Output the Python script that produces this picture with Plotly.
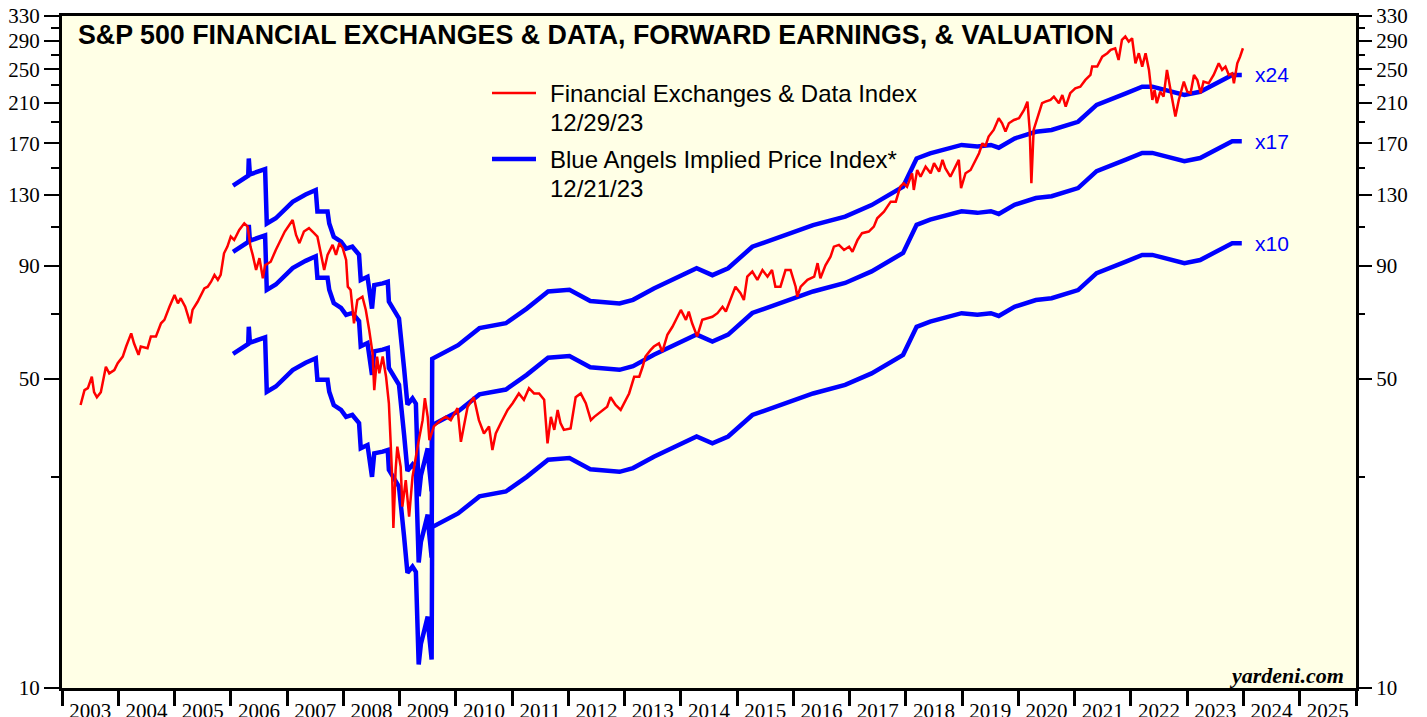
import math
import plotly.graph_objects as go

# S&P 500 Financial Exchanges & Data index (decimal year, index level)
red_years = [
    2003.33, 2003.40, 2003.46, 2003.53, 2003.57, 2003.62, 2003.69, 2003.78, 2003.84, 2003.93,
    2003.99, 2004.08, 2004.14, 2004.23, 2004.28, 2004.36, 2004.40, 2004.52, 2004.58, 2004.67,
    2004.76, 2004.82, 2004.91, 2005.00, 2005.06, 2005.11, 2005.19, 2005.28, 2005.32, 2005.41,
    2005.53, 2005.59, 2005.65, 2005.71, 2005.77, 2005.82, 2005.88, 2005.94, 2006.00, 2006.06,
    2006.15, 2006.24, 2006.30, 2006.35, 2006.39, 2006.45, 2006.51, 2006.57, 2006.61, 2006.71,
    2006.80, 2006.89, 2006.96, 2007.04, 2007.10, 2007.16, 2007.22, 2007.30, 2007.39, 2007.48,
    2007.54, 2007.60, 2007.66, 2007.72, 2007.81, 2007.87, 2007.93, 2007.99, 2008.05, 2008.08,
    2008.13, 2008.19, 2008.25, 2008.34, 2008.40, 2008.46, 2008.52, 2008.55, 2008.60, 2008.64,
    2008.70, 2008.76, 2008.81, 2008.84, 2008.87, 2008.89, 2008.93, 2008.96, 2009.02, 2009.05,
    2009.11, 2009.17, 2009.23, 2009.32, 2009.41, 2009.45, 2009.50, 2009.53, 2009.61, 2009.73,
    2009.82, 2009.91, 2010.03, 2010.09, 2010.21, 2010.32, 2010.41, 2010.50, 2010.59, 2010.65,
    2010.71, 2010.80, 2010.92, 2011.01, 2011.12, 2011.21, 2011.30, 2011.39, 2011.48, 2011.57,
    2011.63, 2011.69, 2011.75, 2011.81, 2011.86, 2011.92, 2012.04, 2012.13, 2012.22, 2012.31,
    2012.40, 2012.46, 2012.58, 2012.69, 2012.75, 2012.84, 2012.93, 2012.99, 2013.08, 2013.17,
    2013.26, 2013.32, 2013.37, 2013.46, 2013.52, 2013.61, 2013.67, 2013.76, 2013.85, 2013.94,
    2014.00, 2014.09, 2014.14, 2014.20, 2014.29, 2014.38, 2014.47, 2014.56, 2014.65, 2014.74,
    2014.80, 2014.88, 2014.97, 2015.06, 2015.12, 2015.18, 2015.27, 2015.36, 2015.45, 2015.54,
    2015.62, 2015.68, 2015.77, 2015.86, 2015.95, 2016.04, 2016.07, 2016.13, 2016.25, 2016.37,
    2016.43, 2016.48, 2016.57, 2016.66, 2016.72, 2016.81, 2016.90, 2016.99, 2017.05, 2017.14,
    2017.22, 2017.34, 2017.43, 2017.49, 2017.61, 2017.73, 2017.82, 2017.90, 2017.96, 2018.02,
    2018.11, 2018.14, 2018.20, 2018.26, 2018.35, 2018.44, 2018.50, 2018.59, 2018.65, 2018.70,
    2018.79, 2018.88, 2018.94, 2018.98, 2019.06, 2019.15, 2019.24, 2019.30, 2019.36, 2019.41,
    2019.47, 2019.56, 2019.65, 2019.71, 2019.77, 2019.83, 2019.92, 2020.01, 2020.10, 2020.16,
    2020.20, 2020.23, 2020.27, 2020.33, 2020.42, 2020.48, 2020.57, 2020.63, 2020.72, 2020.78,
    2020.84, 2020.92, 2021.01, 2021.10, 2021.19, 2021.28, 2021.31, 2021.40, 2021.49, 2021.58,
    2021.64, 2021.72, 2021.78, 2021.84, 2021.90, 2021.96, 2022.02, 2022.08, 2022.14, 2022.20,
    2022.26, 2022.32, 2022.38, 2022.42, 2022.46, 2022.52, 2022.58, 2022.64, 2022.70, 2022.73,
    2022.79, 2022.85, 2022.94, 2023.00, 2023.06, 2023.12, 2023.18, 2023.24, 2023.29, 2023.38,
    2023.47, 2023.56, 2023.62, 2023.68, 2023.74, 2023.80, 2023.83, 2023.89, 2023.94, 2023.99,
]
red_values = [
    43.6, 47.1, 47.6, 50.5, 46.6, 45.4, 46.6, 53.2, 51.4, 52.3,
    54.2, 56.1, 59.1, 63.3, 60.1, 56.6, 59.1, 58.6, 62.3, 62.3,
    66.7, 67.9, 72.7, 77.3, 74.0, 76.0, 72.7, 66.7, 71.5, 74.6,
    80.0, 80.7, 82.8, 85.8, 83.6, 85.8, 96.0, 99.4, 104.7, 102.9,
    108.4, 112.2, 110.3, 99.4, 95.2, 88.0, 93.6, 84.3, 90.2, 91.9,
    97.7, 102.9, 107.5, 111.2, 114.2, 105.6, 101.2, 107.5, 109.4, 106.6,
    104.7, 96.0, 88.0, 95.2, 100.3, 95.2, 101.2, 98.6, 92.7, 80.7,
    79.3, 66.7, 75.3, 76.6, 71.5, 64.4, 57.1, 47.1, 56.1, 51.4,
    56.1, 50.5, 44.0, 36.3, 29.5, 23.0, 31.1, 35.1, 31.6, 25.7,
    29.5, 24.4, 30.0, 35.1, 40.3, 45.2, 41.0, 36.3, 39.0, 40.3,
    41.0, 40.3, 42.9, 36.0, 43.2, 45.4, 40.3, 37.6, 39.0, 34.5,
    37.6, 39.7, 42.5, 44.0, 46.3, 44.8, 47.6, 46.3, 46.3, 44.8,
    35.7, 41.0, 38.3, 42.5, 39.7, 38.3, 38.6, 45.4, 46.3, 44.0,
    40.3, 41.0, 42.1, 43.2, 45.4, 43.6, 42.5, 44.0, 46.3, 50.5,
    50.5, 53.2, 56.1, 58.0, 59.1, 60.1, 57.5, 62.8, 65.5, 69.0,
    71.5, 67.9, 70.9, 66.7, 62.3, 67.9, 68.5, 69.0, 70.3, 72.7,
    70.9, 75.3, 80.7, 78.0, 75.3, 85.0, 87.3, 83.6, 88.0, 85.0,
    88.0, 80.7, 80.7, 88.0, 88.0, 80.7, 76.6, 80.7, 83.6, 85.0,
    91.2, 84.3, 90.2, 94.3, 99.4, 100.3, 97.7, 99.4, 96.8, 102.9,
    106.6, 107.5, 110.3, 115.2, 119.2, 125.6, 125.6, 135.8, 138.2, 135.8,
    145.6, 133.5, 148.1, 143.0, 150.7, 145.6, 153.4, 146.9, 156.1, 149.5,
    143.0, 150.7, 156.1, 134.7, 145.6, 148.1, 156.1, 161.6, 170.2, 167.3,
    176.2, 182.4, 193.9, 188.9, 180.8, 188.9, 192.1, 193.9, 202.4, 211.3,
    182.4, 138.2, 182.4, 192.1, 209.6, 211.3, 213.2, 216.9, 209.6, 218.8,
    205.9, 220.8, 226.6, 228.5, 236.6, 242.8, 253.6, 253.6, 267.1, 271.9,
    276.6, 279.0, 262.5, 291.4, 296.5, 288.8, 293.9, 258.0, 271.9, 253.6,
    271.9, 249.3, 213.2, 224.6, 209.6, 222.7, 216.9, 249.3, 228.5, 215.1,
    195.5, 213.2, 234.5, 222.7, 220.8, 242.8, 236.6, 220.8, 234.5, 232.5,
    242.8, 258.0, 249.3, 253.6, 242.8, 244.9, 232.5, 258.0, 267.1, 279.0,
]

# forward earnings behind the Blue Angels bands (index points)
fwd_years = [
    2006.04, 2006.27, 2006.31, 2006.32, 2006.34, 2006.61, 2006.64, 2006.80, 2007.10, 2007.33,
    2007.51, 2007.54, 2007.72, 2007.75, 2007.83, 2007.96, 2008.05, 2008.16, 2008.28, 2008.31,
    2008.43, 2008.51, 2008.55, 2008.70, 2008.79, 2008.81, 2008.99, 2009.08, 2009.14, 2009.23,
    2009.29, 2009.34, 2009.38, 2009.44, 2009.50, 2009.52, 2009.57, 2009.58, 2009.82, 2010.04,
    2010.42, 2010.89, 2011.26, 2011.64, 2012.02, 2012.21, 2012.39, 2012.91, 2013.15, 2013.52,
    2013.90, 2014.28, 2014.56, 2014.84, 2015.27, 2015.79, 2016.35, 2016.92, 2017.39, 2017.95,
    2018.05, 2018.19, 2018.43, 2018.99, 2019.27, 2019.51, 2019.65, 2019.93, 2020.31, 2020.59,
    2021.06, 2021.39, 2021.91, 2022.20, 2022.38, 2022.71, 2022.95, 2023.23, 2023.52, 2023.80,
    2023.97,
]
fwd_eps = [
    5.69, 5.96, 5.99, 6.55, 6.03, 6.20, 4.67, 4.80, 5.23, 5.43,
    5.56, 4.97, 4.97, 4.67, 4.36, 4.25, 4.10, 4.14, 3.97, 3.48,
    3.54, 3.00, 3.39, 3.42, 3.45, 3.11, 2.85, 2.20, 1.82, 1.88,
    1.83, 1.13, 1.26, 1.35, 1.45, 1.34, 1.16, 2.31, 2.40, 2.48,
    2.71, 2.78, 3.00, 3.28, 3.31, 3.22, 3.12, 3.08, 3.14, 3.33,
    3.51, 3.70, 3.57, 3.70, 4.14, 4.36, 4.63, 4.84, 5.14, 5.66,
    6.01, 6.55, 6.73, 7.03, 6.97, 7.03, 6.93, 7.27, 7.53, 7.60,
    7.93, 8.66, 9.19, 9.52, 9.52, 9.27, 9.12, 9.27, 9.68, 10.12,
    10.12,
]

multiples = [10, 17, 24]
year_labels = list(range(2003, 2026))
y_major = [10, 50, 90, 130, 170, 210, 250, 290, 330]
y_minor = [30, 70, 110, 150, 190, 230, 270, 310]

RED = "#FF0000"
BLUE = "#0000FF"
serif = "Liberation Serif, Times New Roman, serif"
sans = "Liberation Sans, Arial, sans-serif"

fig = go.Figure()

# Blue Angels bands: forward earnings x multiple
for m in multiples:
    fig.add_trace(go.Scatter(
        x=fwd_years, y=[e * m for e in fwd_eps], mode="lines",
        line=dict(color=BLUE, width=4.5), yaxis="y",
        showlegend=False, hoverinfo="skip",
    ))

# price index on the overlay axis so it draws on top of the bands
fig.add_trace(go.Scatter(
    x=red_years, y=red_values, mode="lines",
    line=dict(color=RED, width=2.5), yaxis="y2",
    showlegend=False, hoverinfo="skip",
))

yrange = [math.log10(10), math.log10(330)]
tick_font = dict(family=serif, size=21, color="black")

def y_axis(**kw):
    d = dict(
        type="log", range=yrange, tickmode="array", automargin=False,
        tickvals=y_major, ticktext=[str(v) for v in y_major],
        ticks="outside", ticklen=15, tickwidth=2, tickcolor="black",
        tickfont=tick_font, showgrid=False, zeroline=False,
        minor=dict(tickmode="array", tickvals=y_minor, ticks="outside",
                   ticklen=8, tickwidth=2, tickcolor="black", showgrid=False),
    )
    d.update(kw)
    return d

fig.update_layout(
    width=1427, height=717,
    margin=dict(l=62, r=71, t=16, b=29),
    paper_bgcolor="white",
    plot_bgcolor="#FFFFE6",
    showlegend=False,
    xaxis=dict(
        range=[2003, 2026], tickmode="array", automargin=False,
        tickvals=[y + 0.5 for y in year_labels],
        ticktext=[str(y) for y in year_labels],
        ticks="outside", ticklen=2, tickcolor="rgba(0,0,0,0)",
        tickfont=tick_font, showgrid=False, zeroline=False,
        showline=True, linewidth=3, linecolor="black", mirror=True,
        minor=dict(tickmode="array", tickvals=list(range(2003, 2027)),
                   ticks="outside", ticklen=15, tickwidth=2.5,
                   tickcolor="black", showgrid=False),
    ),
    yaxis=y_axis(side="left", showline=True, linewidth=3,
                 linecolor="black", mirror=True),
    yaxis2=y_axis(side="right", overlaying="y", anchor="x", showline=False),
)

# title inside the plot
fig.add_annotation(
    xref="paper", yref="paper", x=(76 - 62) / 1294, y=0.971,
    xanchor="left", yanchor="middle", showarrow=False,
    text="<b>S&P 500 FINANCIAL EXCHANGES & DATA, FORWARD EARNINGS, & VALUATION</b>",
    font=dict(family=sans, size=26.8, color="black"),
)

# legend
legend_font = dict(family=sans, size=24, color="black")
legend_rows = [
    ("Financial Exchanges & Data Index", 93),
    ("12/29/23", 122),
    ("Blue Angels Implied Price Index*", 159),
    ("12/21/23", 189),
]
for text, py in legend_rows:
    fig.add_annotation(
        xref="paper", yref="paper", x=(548 - 62) / 1294, y=(688 - py) / 672,
        xanchor="left", yanchor="middle", showarrow=False,
        text=text, font=legend_font,
    )
for color, width, py in [(RED, 2.5, 93), (BLUE, 4.5, 159)]:
    fig.add_shape(
        type="line", xref="paper", yref="paper",
        x0=(492 - 62) / 1294, x1=(536 - 62) / 1294,
        y0=(688 - py) / 672, y1=(688 - py) / 672,
        line=dict(color=color, width=width),
    )

# multiple labels at the end of each band
for m in multiples:
    fig.add_annotation(
        x=2024.17, y=math.log10(fwd_eps[-1] * m), xref="x", yref="y",
        xanchor="left", yanchor="middle", showarrow=False,
        text=f"x{m}", font=dict(family=sans, size=21, color=BLUE),
    )

fig.add_annotation(
    xref="paper", yref="paper", x=0.9925, y=0.019,
    xanchor="right", yanchor="middle", showarrow=False,
    text="<b><i>yardeni.com</i></b>",
    font=dict(family=serif, size=22, color="black"),
)

# page margin off so the figure sits at the window's corner
fig.write_html(
    "out.html",
    config={"displayModeBar": False},
    post_script="document.body.style.margin='0';",
)
